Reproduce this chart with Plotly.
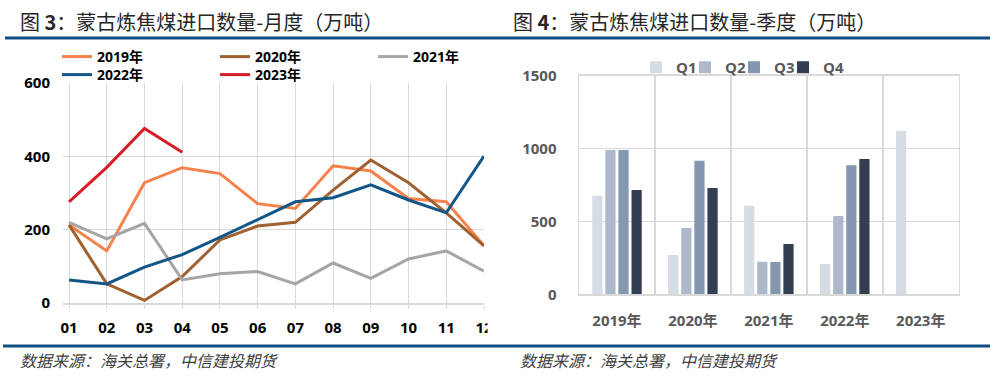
import plotly.graph_objects as go

# ---------------- data ----------------
months = ["01", "02", "03", "04", "05", "06", "07", "08", "09", "10", "11", "12"]
y2019 = [213, 142, 328, 369, 353, 271, 258, 374, 360, 285, 276, 156]
y2020 = [213, 52, 7, 72, 172, 210, 220, 308, 390, 328, 246, 156]
y2021 = [220, 175, 217, 63, 80, 86, 52, 109, 67, 120, 142, 87]
y2022 = [63, 52, 98, 132, 179, 227, 276, 287, 322, 281, 246, 401]
y2023 = [276, 370, 476, 411]

years = ["2019年", "2020年", "2021年", "2022年", "2023年"]
q1 = [677, 270, 608, 208, 1123]
q2 = [990, 455, 224, 537, None]
q3 = [990, 917, 222, 885, None]
q4 = [716, 729, 345, 928, None]

W, H = 996, 377
def px(x):
    return x / W
def py(y):
    return 1 - y / H

FONT = "Open Sans, Noto Sans CJK SC, sans-serif"
CJK = "Noto Sans CJK SC, sans-serif"

fig = go.Figure()

line_series = [
    ("2019年", y2019, "#F4824A", "legend"),
    ("2020年", y2020, "#A0602F", "legend"),
    ("2021年", y2021, "#A5A5A5", "legend"),
    ("2022年", y2022, "#125688", "legend3"),
    ("2023年", y2023, "#D71E28", "legend3"),
]
for name, vals, col, lg in line_series:
    fig.add_trace(go.Scatter(
        x=months[:len(vals)], y=vals, name=name, mode="lines",
        line=dict(color=col, width=3), xaxis="x", yaxis="y", legend=lg,
    ))

bar_series = [
    ("Q1", q1, "#D6DCE4", 4),
    ("Q2", q2, "#ADB9CA", 4),
    ("Q3", q3, "#8497B0", 4),
    ("Q4", q4, "#333F50", None),
]
for name, vals, col, lw in bar_series:
    kw = {}
    if lw is not None:
        kw["legendwidth"] = lw
    fig.add_trace(go.Bar(
        x=years, y=vals, name=name, marker=dict(color=col, line=dict(width=0)),
        xaxis="x2", yaxis="y2", legend="legend2", **kw,
    ))

grid = "#D9D9D9"
fig.update_layout(
    width=W, height=H,
    margin=dict(l=0, r=0, t=0, b=0, autoexpand=False),
    paper_bgcolor="white", plot_bgcolor="white",
    barmode="group", bargap=0.31, bargroupgap=0.22,
    xaxis=dict(
        domain=[px(63), px(484)], type="category", range=[-0.16, 11],
        showgrid=True, gridcolor=grid, gridwidth=1,
        showline=True, linecolor=grid, linewidth=1.5,
        ticks="outside", ticklen=4, tickcolor=grid,
        tickfont=dict(family=FONT, size=15, color="#000000", weight="bold"),
        ticklabelstandoff=6, fixedrange=True, automargin=False,
    ),
    yaxis=dict(
        domain=[py(303), py(83)], range=[0, 600], tickvals=[0, 200, 400, 600],
        showgrid=True, gridcolor=grid, gridwidth=1, zeroline=False,
        tickfont=dict(family=FONT, size=15, color="#000000", weight="bold"),
        ticklabelstandoff=12, fixedrange=True, automargin=False,
    ),
    xaxis2=dict(
        domain=[px(579), px(958.7)], type="category", anchor="y2",
        tickson="boundaries", showgrid=True, gridcolor=grid, gridwidth=1.5,
        showline=True, mirror=True, linecolor=grid, linewidth=1.5,
        ticks="", tickfont=dict(family=FONT, size=15, color="#595959", weight="bold"),
        ticklabelstandoff=12, fixedrange=True, automargin=False,
    ),
    yaxis2=dict(
        domain=[py(294.3), py(75.7)], range=[0, 1500], tickvals=[0, 500, 1000, 1500],
        anchor="x2", showgrid=True, gridcolor=grid, gridwidth=1.5, zeroline=False,
        showline=True, mirror=True, linecolor=grid, linewidth=1.5,
        tickfont=dict(family=FONT, size=15, color="#595959", weight="bold"),
        ticklabelstandoff=18, fixedrange=True, automargin=False,
    ),
    legend=dict(
        orientation="h", x=px(57), xanchor="left", y=py(41), yanchor="top",
        entrywidth=113, entrywidthmode="pixels", bgcolor="rgba(0,0,0,0)",
        font=dict(family=FONT, size=14, color="#000000", weight="bold"),
        tracegroupgap=0, itemclick=False, itemdoubleclick=False,
    ),
    legend3=dict(
        orientation="h", x=px(57), xanchor="left", y=py(59), yanchor="top",
        entrywidth=113, entrywidthmode="pixels", bgcolor="rgba(0,0,0,0)",
        font=dict(family=FONT, size=14, color="#000000", weight="bold"),
        tracegroupgap=0, itemclick=False, itemdoubleclick=False,
    ),
    legend2=dict(
        orientation="h", x=px(636), xanchor="left", y=py(51), yanchor="top",
        bgcolor="rgba(0,0,0,0)",
        font=dict(family=FONT, size=15, color="#595959", weight="bold"),
        tracegroupgap=0, itemclick=False, itemdoubleclick=False,
    ),
    showlegend=True,
)

# header / footer rules
fig.add_shape(type="line", xref="paper", yref="paper",
              x0=px(5), x1=px(990), y0=py(38), y1=py(38),
              line=dict(color="#0F4C81", width=3), layer="above")
fig.add_shape(type="line", xref="paper", yref="paper",
              x0=px(3), x1=px(990), y0=py(346), y1=py(346),
              line=dict(color="#0F4C81", width=3), layer="above")
# crop of the last month label, as in the original image
fig.add_shape(type="rect", xref="paper", yref="paper",
              x0=px(487.5), x1=px(499), y0=py(336), y1=py(312),
              fillcolor="white", line=dict(width=0), layer="above")

titles = [
    (18, "图 <b>3</b>：蒙古炼焦煤进口数量-月度（万吨）"),
    (511, "图 <b>4</b>：蒙古炼焦煤进口数量-季度（万吨）"),
]
for x, t in titles:
    fig.add_annotation(text=t, xref="paper", yref="paper", x=px(x), y=py(22),
                       xanchor="left", yanchor="middle", showarrow=False,
                       font=dict(family=CJK, size=20, color="#262626"))

for x in (18, 518):
    fig.add_annotation(text="<i>数据来源：海关总署，中信建投期货</i>", xref="paper", yref="paper",
                       x=px(x), y=py(360), xanchor="left", yanchor="middle", showarrow=False,
                       font=dict(family=CJK, size=16, color="#404040"))

fig.write_html(
    "out.html",
    config={"displayModeBar": False, "staticPlot": True},
    post_script="document.body.style.margin='0';document.body.style.overflow='hidden';",
)
